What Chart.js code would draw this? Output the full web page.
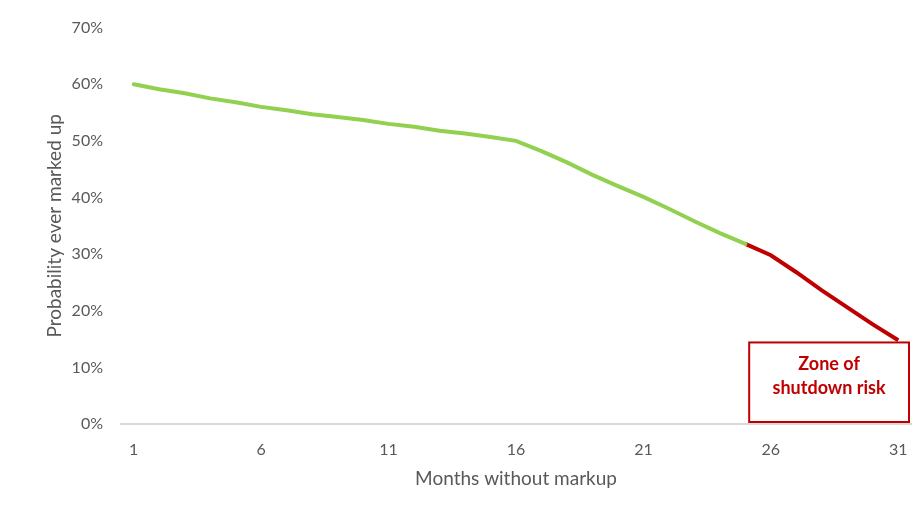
<!DOCTYPE html>
<html>
<head>
<meta charset="utf-8">
<script src="https://cdn.jsdelivr.net/npm/chart.js@4/dist/chart.umd.min.js"></script>
<style>
  html, body { margin: 0; padding: 0; background: #fff; }
  #wrap { width: 920px; height: 510px; }
</style>
</head>
<body>
<div id="wrap"><canvas id="chart" width="920" height="510"></canvas></div>
<script>
// Probability a company ever gets marked up, by months without markup.
const months = [1, 2, 3, 4, 5, 6, 7, 8, 9, 10, 11, 12, 13, 14, 15, 16,
  17, 18, 19, 20, 21, 22, 23, 24, 25, 26, 27, 28, 29, 30, 31];

// percent values, green part runs to month 25, red part from month 25 on
const safeZone = [60, 59.1, 58.4, 57.5, 56.8, 56.0, 55.4, 54.7, 54.2, 53.7,
  53.0, 52.5, 51.8, 51.3, 50.7, 50.0, 48.2, 46.2, 44.0, 42.0, 40.1, 38.0,
  35.8, 33.7, 31.8, null, null, null, null, null, null];
const riskZone = [null, null, null, null, null, null, null, null, null, null,
  null, null, null, null, null, null, null, null, null, null, null, null,
  null, null, 31.8, 29.8, 26.8, 23.6, 20.6, 17.6, 14.8];

const yTicks = [0, 10, 20, 30, 40, 50, 60, 70];
const zoneLabel = ["Zone of", "shutdown risk"];

const GREEN = "#92d050";
const RED = "#c00000";
const TEXT = "#595959";
const FONT = "Lato, 'Open Sans', sans-serif";

// draws the "Zone of shutdown risk" callout under the red segment
const zoneBox = {
  id: "zoneBox",
  afterDatasetsDraw(chart) {
    const { ctx, chartArea, scales } = chart;
    const x = scales.x, y = scales.y;
    const left = x.getPixelForValue(riskZone.findIndex(v => v !== null) + 0.15);
    const right = chartArea.right - 2;
    const top = y.getPixelForValue(14.4);
    const bottom = y.getPixelForValue(0) - 2;
    ctx.save();
    ctx.fillStyle = "#fff";
    ctx.fillRect(left, top, right - left, bottom - top);
    ctx.strokeStyle = RED;
    ctx.lineWidth = 2;
    ctx.strokeRect(left, top, right - left, bottom - top);
    ctx.fillStyle = RED;
    ctx.font = "bold 18px " + FONT;
    ctx.textAlign = "center";
    ctx.textBaseline = "middle";
    const cx = (left + right) / 2;
    ctx.fillText(zoneLabel[0], cx, top + 22);
    ctx.fillText(zoneLabel[1], cx, top + 46);
    ctx.restore();
  }
};

new Chart(document.getElementById("chart"), {
  type: "line",
  data: {
    labels: months,
    datasets: [
      {
        data: safeZone,
        borderColor: GREEN,
        borderWidth: 4,
        borderCapStyle: "round",
        pointRadius: 0,
        tension: 0,
        spanGaps: false
      },
      {
        data: riskZone,
        borderColor: RED,
        borderWidth: 4,
        pointRadius: 0,
        tension: 0,
        spanGaps: false
      }
    ]
  },
  options: {
    responsive: false,
    animation: false,
    layout: { padding: { top: 21, right: 9, left: 0, bottom: 0 } },
    plugins: { legend: { display: false }, tooltip: { enabled: false } },
    scales: {
      x: {
        offset: true,
        grid: { display: false, drawTicks: true, tickLength: 13 },
        border: { display: true, color: "#d9d9d9", width: 2 },
        ticks: {
          autoSkip: false,
          maxRotation: 0,
          padding: 3,
          color: TEXT,
          font: { family: FONT, size: 16 },
          callback: function(val, i) { return i % 5 === 0 ? months[i] : ""; }
        },
        title: {
          display: true,
          text: "Months without markup",
          color: TEXT,
          font: { family: FONT, size: 19 },
          padding: { top: 0, bottom: 20 }
        },
        afterFit(scale) { scale.height = 86; }
      },
      y: {
        min: 0,
        max: 70,
        grid: { display: false, drawTicks: false },
        border: { display: false },
        afterBuildTicks(scale) { scale.ticks = yTicks.map(v => ({ value: v })); },
        ticks: {
          padding: 18,
          color: TEXT,
          font: { family: FONT, size: 16 },
          callback: v => v + "%"
        },
        title: {
          display: true,
          text: "Probability ever marked up",
          color: TEXT,
          font: { family: FONT, size: 19 },
          padding: { top: 43, bottom: 0 }
        },
        afterFit(scale) { scale.width = 121; }
      }
    }
  },
  plugins: [zoneBox]
});
</script>
</body>
</html>
